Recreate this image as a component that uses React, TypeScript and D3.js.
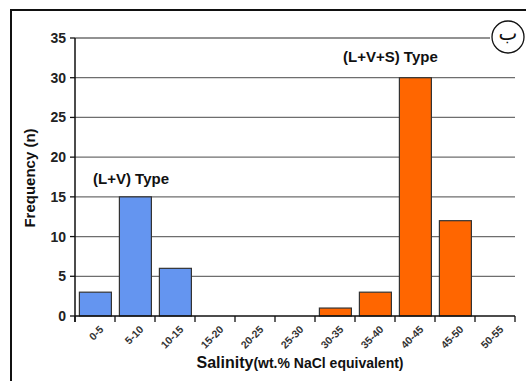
import React from 'react';
import * as d3 from 'd3';

const categories = ['0-5', '5-10', '10-15', '15-20', '20-25', '25-30', '30-35', '35-40', '40-45', '45-50', '50-55'];
const lvValues = [3, 15, 6, 0, 0, 0, 0, 0, 0, 0, 0];
const lvsValues = [0, 0, 0, 0, 0, 0, 1, 3, 30, 12, 0];
const yTicks = [0, 5, 10, 15, 20, 25, 30, 35];

const width = 526;
const height = 381;
const margin = { top: 38, right: 11, bottom: 65, left: 75 };
const font = 'Liberation Sans, Arial, sans-serif';

export default function App() {
  const innerW = width - margin.left - margin.right;
  const innerH = height - margin.top - margin.bottom;

  const x = d3.scaleBand<string>().domain(categories).range([0, innerW]).padding(0);
  const y = d3.scaleLinear().domain([0, 35]).range([innerH, 0]);
  const bw = x.bandwidth();

  const bars = categories.map((c, i) => {
    const v = lvValues[i] || lvsValues[i];
    return { c, v, color: lvValues[i] ? '#6495f0' : '#ff6600' };
  }).filter(d => d.v > 0);

  const boundaries = d3.range(categories.length + 1).map(i => i * bw);

  return (
    <svg width={width} height={height} style={{ position: 'absolute', left: 0, top: 0, fontFamily: font }}>
      <rect x={0} y={0} width={width} height={height} fill="#fff" />
      {/* frame */}
      <rect x={11} y={10} width={width} height={height} fill="none" stroke="#111" strokeWidth={2} />

      <g transform={`translate(${margin.left},${margin.top})`}>
        {/* grid */}
        {yTicks.filter(t => t > 0).map(t => (
          <line key={t} x1={0} x2={t === 35 ? 415 : innerW} y1={y(t)} y2={y(t)} stroke="#6e6e6e" strokeWidth={1.3} />
        ))}

        {/* bars */}
        {bars.map(d => (
          <rect key={d.c} x={(x(d.c) as number) + bw * 0.11} y={y(d.v)} width={bw * 0.8} height={innerH - y(d.v)}
            fill={d.color} stroke="#333" strokeWidth={1.2} />
        ))}

        {/* axes */}
        <line x1={0} x2={0} y1={0} y2={innerH + 6} stroke="#111" strokeWidth={1.5} />
        <line x1={0} x2={innerW} y1={innerH} y2={innerH} stroke="#111" strokeWidth={1.5} />
        {yTicks.map(t => (
          <g key={t}>
            <line x1={-5} x2={0} y1={y(t)} y2={y(t)} stroke="#111" strokeWidth={1.3} />
            <text x={-9} y={y(t)} dy="0.36em" textAnchor="end" fontSize={14} fontWeight="bold" fill="#222">{t}</text>
          </g>
        ))}
        {boundaries.map((b, i) => (
          <line key={i} x1={b} x2={b} y1={innerH} y2={innerH + 6} stroke="#111" strokeWidth={1.3} />
        ))}
        {categories.map(c => (
          <text key={c} transform={`translate(${(x(c) as number) + bw / 2 + 4},${innerH + 9}) rotate(-45)`}
            textAnchor="end" dy="0.7em" fontSize={10.5} fontWeight="bold" fill="#333">{c}</text>
        ))}

        {/* annotations */}
        <text x={18} y={146} fontSize={15} fontWeight="bold" fill="#111">(L+V) Type</text>
        <text x={268} y={24} fontSize={15} fontWeight="bold" fill="#111">(L+V+S) Type</text>
      </g>

      {/* axis titles */}
      <text transform={`translate(35,178) rotate(-90)`} textAnchor="middle" fontSize={15} fontWeight="bold" fill="#111">Frequency (n)</text>
      <text x={300} y={368} textAnchor="middle" fontWeight="bold" fill="#111">
        <tspan fontSize={16}>Salinity</tspan><tspan fontSize={14}>(wt.% NaCl equivalent)</tspan>
      </text>

      {/* panel mark */}
      <circle cx={508} cy={37} r={16} fill="#fff" stroke="#111" strokeWidth={1.3} />
      <text x={508} y={37} dy="0.15em" textAnchor="middle" fontSize={20} fill="#111" fontFamily="DejaVu Sans, sans-serif">ب</text>
    </svg>
  );
}
